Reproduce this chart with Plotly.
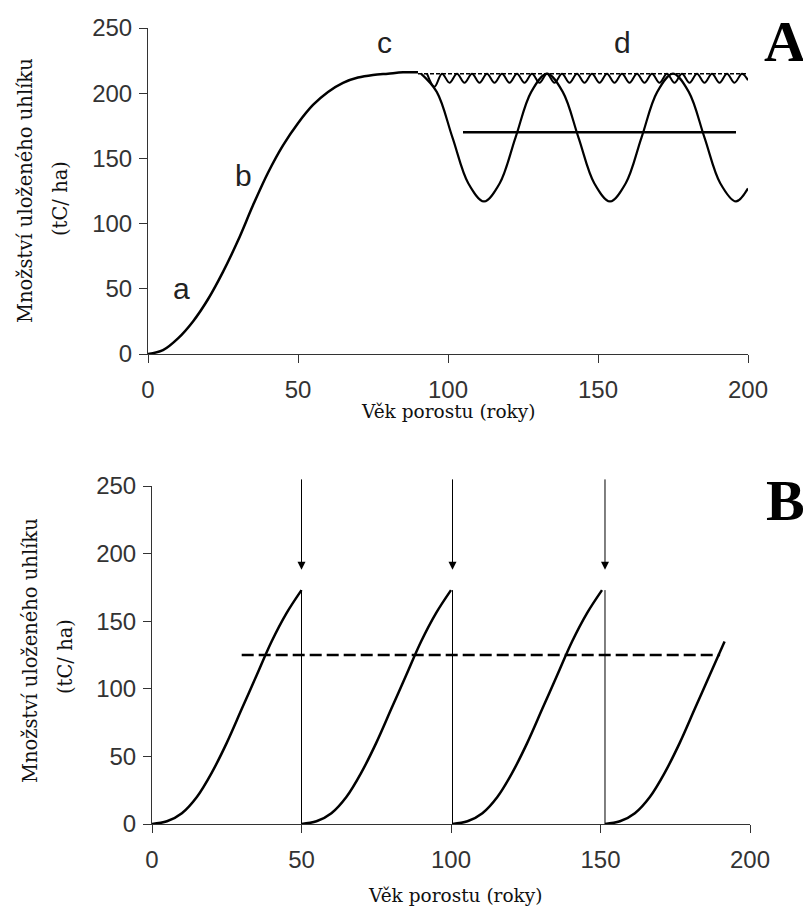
import plotly.graph_objects as go

# ---------------- Panel A data ----------------
a_age = [0, 5, 10, 15, 20, 25, 30, 35, 40, 45, 50, 55, 60, 65, 70, 75, 80, 85, 90]
a_carbon = [0, 3, 12, 25, 42, 63, 87, 114, 139, 160, 177, 191, 201, 208, 212, 214, 215, 216, 216]

# large-disturbance oscillation (d)
big_age = [91, 96.25, 101.5, 106.75, 112, 117.25, 122.5, 127.75, 133, 138.25, 143.5,
           148.75, 154, 159.25, 164.5, 169.75, 175, 180.25, 185.5, 190.75, 196, 200]
big_carbon = [215, 201, 166, 131, 117, 131, 166, 201, 215, 201, 166,
              131, 117, 131, 166, 201, 215, 201, 166, 131, 117, 127]

# small-disturbance oscillation (d)
small_age = [93, 95.5, 98, 100.5, 103, 105.5, 108, 110.5, 113, 115.5, 118, 120.5, 123,
             125.5, 128, 130.5, 133, 135.5, 138, 140.5, 143, 145.5, 148, 150.5, 153,
             155.5, 158, 160.5, 163, 165.5, 168, 170.5, 173, 175.5, 178, 180.5, 183,
             185.5, 188, 190.5, 193, 195.5, 198, 200]
small_carbon = [215, 205, 215, 208, 215, 208, 215, 208, 215, 208, 215, 208, 215,
                208, 215, 208, 215, 208, 215, 208, 215, 208, 215, 208, 215,
                208, 215, 208, 215, 208, 215, 208, 215, 208, 215, 208, 215,
                208, 215, 208, 215, 208, 215, 210]

plateau_age = [90, 200]
plateau_carbon = [215, 215]
mean_age = [105, 196]
mean_carbon = [170, 170]

# ---------------- Panel B data ----------------
seg_age = [0, 5, 10, 15, 20, 25, 30, 35, 40, 45, 50]
seg_carbon = [0, 2, 8, 20, 38, 60, 85, 110, 135, 156, 173]
rotation_starts = [0, 50, 100.5, 151.5]
harvest_years = [50, 100.5, 151.5]
last_seg_points = 9
b_mean_age = [30, 190]
b_mean_carbon = [125, 125]
arrow_top = 256
arrow_tip = 188

ticks_x = [0, 50, 100, 150, 200]
ticks_y = [0, 50, 100, 150, 200, 250]

curve_labels = ["a", "b", "c", "d"]
curve_label_x = [11.3, 31.7, 78.7, 158]
curve_label_y = [50.6, 137, 239, 239]

BLACK = "#000000"
fig = go.Figure()

# Panel A traces
fig.add_trace(go.Scatter(x=a_age, y=a_carbon, mode="lines", line=dict(color=BLACK, width=2.5, shape="spline"),
                         xaxis="x", yaxis="y"))
fig.add_trace(go.Scatter(x=plateau_age, y=plateau_carbon, mode="lines",
                         line=dict(color=BLACK, width=1.5, dash="4px,2px"), xaxis="x", yaxis="y"))
fig.add_trace(go.Scatter(x=small_age, y=small_carbon, mode="lines",
                         line=dict(color=BLACK, width=2, shape="spline", smoothing=1.0), xaxis="x", yaxis="y"))
fig.add_trace(go.Scatter(x=big_age, y=big_carbon, mode="lines",
                         line=dict(color=BLACK, width=2.2, shape="spline"), xaxis="x", yaxis="y"))
fig.add_trace(go.Scatter(x=mean_age, y=mean_carbon, mode="lines",
                         line=dict(color=BLACK, width=2.5), xaxis="x", yaxis="y"))

# Panel B traces
for i, start in enumerate(rotation_starts):
    n = last_seg_points if i == len(rotation_starts) - 1 else len(seg_age)
    fig.add_trace(go.Scatter(x=[start + a for a in seg_age[:n]], y=seg_carbon[:n], mode="lines",
                             line=dict(color=BLACK, width=2.5, shape="spline"), xaxis="x2", yaxis="y2"))
for h in harvest_years:
    fig.add_trace(go.Scatter(x=[h, h], y=[0, seg_carbon[-1]], mode="lines",
                             line=dict(color=BLACK, width=1), xaxis="x2", yaxis="y2"))
fig.add_trace(go.Scatter(x=b_mean_age, y=b_mean_carbon, mode="lines",
                         line=dict(color=BLACK, width=2.5, dash="12px,5px"), xaxis="x2", yaxis="y2"))

annotations = []
for h in harvest_years:
    annotations.append(dict(x=h, y=arrow_tip, ax=h, ay=arrow_top, xref="x2", yref="y2",
                            axref="x2", ayref="y2", text="", showarrow=True, arrowhead=2,
                            arrowsize=1.6, arrowwidth=1, arrowcolor=BLACK, standoff=0))

for t, x, y in zip(curve_labels, curve_label_x, curve_label_y):
    annotations.append(dict(x=x, y=y, xref="x", yref="y", text=t, showarrow=False,
                            font=dict(family="Liberation Sans", size=30, color="#222")))

# page is drawn with an 8px body margin, so convert screen pixels accordingly
OFF = 8
W, H = 811 - OFF, 911 - OFF


def px_x(px):
    return (px - OFF) / W


def px_y(py):
    return 1 - (py - OFF) / H


serif_y = dict(family="DejaVu Serif", size=19.5, color="#111")
serif_x = dict(family="DejaVu Serif", size=18.5, color="#111")
title_specs = [
    ("Množství uloženého uhlíku", 25, 191, -90, serif_y),
    ("(tC/ ha)", 60, 198, -90, serif_y),
    ("Množství uloženého uhlíku", 30, 651, -90, serif_y),
    ("(tC/ ha)", 65, 657, -90, serif_y),
    ("Věk porostu (roky)", 448, 411, 0, serif_x),
    ("Věk porostu (roky)", 455, 895, 0, serif_x),
]
for txt, px, py, ang, fnt in title_specs:
    annotations.append(dict(x=px_x(px), y=px_y(py), xref="paper", yref="paper", text=txt,
                            showarrow=False, textangle=ang, font=fnt,
                            xanchor="center", yanchor="middle"))
for txt, px, py in [("A", 785, 42), ("B", 785, 500)]:
    annotations.append(dict(x=px_x(px), y=px_y(py), xref="paper", yref="paper", text="<b>%s</b>" % txt,
                            showarrow=False, font=dict(family="Liberation Serif", size=58, color=BLACK),
                            xanchor="center", yanchor="middle"))

axis_common = dict(showline=True, linecolor="#333", linewidth=1, ticks="outside", ticklen=8,
                   tickcolor="#333", tickwidth=1, showgrid=False, zeroline=False, automargin=False,
                   tickfont=dict(family="Liberation Sans", size=24, color="#333"))

fig.update_layout(
    width=W, height=H, margin=dict(l=0, r=0, t=0, b=0, pad=0, autoexpand=False),
    paper_bgcolor="white", plot_bgcolor="white", showlegend=False,
    xaxis=dict(domain=[px_x(148), px_x(748)], range=[0, 200], anchor="y", tickvals=ticks_x,
               ticklabelstandoff=6, **axis_common),
    yaxis=dict(domain=[px_y(354), px_y(28)], range=[0, 250], anchor="x", tickvals=ticks_y,
               ticklabelstandoff=2, **axis_common),
    xaxis2=dict(domain=[px_x(152), px_x(750)], range=[0, 200], anchor="y2", tickvals=ticks_x,
                ticklabelstandoff=6, **axis_common),
    yaxis2=dict(domain=[px_y(824), px_y(486)], range=[0, 250], anchor="x2", tickvals=ticks_y,
                ticklabelstandoff=2, **axis_common),
    annotations=annotations,
)

fig.write_html("out.html")
